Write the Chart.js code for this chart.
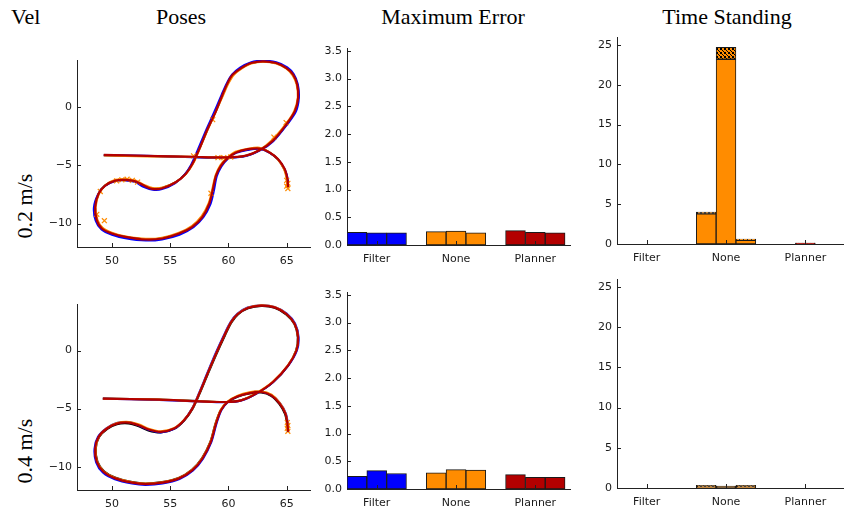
<!DOCTYPE html>
<html lang="en">
<head>
<meta charset="UTF-8"/>
<title>Vel - Poses / Maximum Error / Time Standing</title>
<script src="https://cdn.jsdelivr.net/npm/chart.js"></script>
<style>
  html, body { margin: 0; padding: 0; background: #fff; overflow: hidden; }
  body { position: relative; width: 845px; height: 508px; }
  .t { position: absolute; font-family: 'Liberation Serif', 'Times New Roman', serif; font-size: 22px;
    line-height: 22px; color: #000; white-space: nowrap; }
  .c { transform: translateX(-50%); }
  .rot { transform: translate(-50%, -50%) rotate(-90deg); }
  canvas { position: absolute; }
</style>
</head>
<body>

<div class="t" style="left:11px; top:6px">Vel</div>
<div class="t c" style="left:181px; top:6px">Poses</div>
<div class="t c" style="left:453px; top:6px">Maximum Error</div>
<div class="t c" style="left:727px; top:6px">Time Standing</div>
<div class="t rot" style="left:25px; top:206px">0.2 m/s</div>
<div class="t rot" style="left:25px; top:451px">0.4 m/s</div>

<script>
// ---- data ----
const methods = ['Filter', 'None', 'Planner'];
const methodColors = ['#0000ff', '#ff8c00', '#b30000'];

const poseTicksX = [50, 55, 60, 65];
const poseTicksY = [0, -5, -10];
const errTicks = [0, 0.5, 1, 1.5, 2, 2.5, 3, 3.5];
const timeTicks = [0, 5, 10, 15, 20, 25];

// row 1 (0.2 m/s) trajectories, [x, y]
const black1 = [[49.3,-4.15],[53,-4.22],[56.9,-4.3],[59.8,-4.35],[61.5,-4.2],[62.7,-3.7],[63.8,-2.9],[65.0,-1.5],[65.7,-0.4],[66.0,0.8],[65.9,1.9],[65.55,2.75],[65.0,3.3],[64.1,3.74],[63.0,3.88],[61.95,3.74],[61.1,3.3],[60.4,2.75],[59.95,2.0],[59.5,1.0],[58.9,-0.4],[58.2,-1.95],[57.5,-3.6],[56.9,-4.9],[56.3,-5.75],[55.5,-6.45],[54.3,-6.95],[53.5,-7.0],[52.75,-6.75],[52.0,-6.4],[51.15,-6.25],[50.3,-6.3],[49.4,-6.75],[48.85,-7.45],[48.55,-8.6],[48.7,-9.7],[49.15,-10.4],[50.0,-10.85],[51.15,-11.15],[52.9,-11.35],[54.3,-11.25],[55.75,-10.85],[56.9,-10.25],[57.75,-9.4],[58.35,-8.3],[58.65,-7.15],[58.95,-5.9],[59.35,-5.05],[59.95,-4.4],[60.65,-3.9],[61.65,-3.65],[62.65,-3.55],[63.5,-3.9],[64.25,-4.5],[64.8,-5.35],[65.05,-6.2],[65.1,-6.9]];
const blue1 = [[49.3,-4.15],[53,-4.2],[56.9,-4.32],[59.8,-4.38],[61.5,-4.22],[62.75,-3.72],[63.85,-2.95],[65.05,-1.5],[65.8,-0.4],[66.05,0.8],[65.95,1.95],[65.6,2.8],[65.05,3.38],[64.1,3.8],[63.0,3.95],[61.9,3.8],[61.0,3.35],[60.3,2.75],[59.85,2.0],[59.4,1.0],[58.8,-0.4],[58.1,-1.95],[57.4,-3.6],[56.8,-4.95],[56.2,-5.85],[55.4,-6.55],[54.3,-7.05],[53.5,-7.1],[52.7,-6.85],[52.0,-6.45],[51.15,-6.3],[50.3,-6.35],[49.35,-6.8],[48.8,-7.5],[48.45,-8.6],[48.6,-9.75],[49.1,-10.5],[50.0,-10.95],[51.15,-11.25],[52.9,-11.45],[54.3,-11.35],[55.8,-10.95],[57.0,-10.3],[57.85,-9.45],[58.45,-8.35],[58.75,-7.2],[59.0,-5.95],[59.4,-5.1],[59.95,-4.45],[60.65,-3.95],[61.65,-3.7],[62.65,-3.6],[63.55,-3.95],[64.3,-4.55],[64.85,-5.4],[65.1,-6.2],[65.1,-6.9]];
const orange1 = [[49.3,-4.18],[53,-4.25],[57.0,-4.28],[59.8,-4.35],[61.5,-4.18],[62.7,-3.68],[63.75,-2.85],[64.95,-1.45],[65.65,-0.35],[65.95,0.8],[65.85,1.9],[65.5,2.7],[64.95,3.28],[64.1,3.7],[63.0,3.85],[61.95,3.7],[61.15,3.28],[60.45,2.72],[60.0,2.0],[59.55,1.0],[58.95,-0.35],[58.25,-1.9],[57.55,-3.55],[57.0,-4.8],[56.4,-5.7],[55.55,-6.4],[54.35,-6.9],[53.5,-6.95],[52.8,-6.7],[52.0,-6.3],[51.15,-6.2],[50.3,-6.25],[49.45,-6.7],[48.9,-7.4],[48.6,-8.6],[48.75,-9.65],[49.2,-10.35],[50.05,-10.8],[51.2,-11.1],[52.9,-11.3],[54.3,-11.2],[55.7,-10.8],[56.85,-10.2],[57.7,-9.35],[58.3,-8.25],[58.6,-7.1],[58.9,-5.85],[59.3,-5.0],[59.9,-4.35],[60.6,-3.85],[61.65,-3.6],[62.65,-3.5],[63.45,-3.85],[64.2,-4.45],[64.75,-5.3],[65.0,-6.2],[65.05,-6.8]];
const red1 = [[49.3,-4.12],[53,-4.2],[56.9,-4.28],[59.8,-4.33],[61.5,-4.18],[62.7,-3.7],[63.8,-2.92],[64.97,-1.5],[65.7,-0.37],[65.98,0.76],[65.9,1.9],[65.55,2.75],[64.97,3.31],[64.1,3.74],[62.96,3.88],[61.95,3.74],[61.1,3.31],[60.37,2.75],[59.93,2.04],[59.5,1.05],[58.93,-0.37],[58.2,-1.93],[57.49,-3.63],[56.9,-4.9],[56.33,-5.75],[55.47,-6.46],[54.32,-6.97],[53.46,-7.03],[52.74,-6.74],[52.0,-6.37],[51.15,-6.26],[50.29,-6.32],[49.42,-6.74],[48.85,-7.45],[48.56,-8.58],[48.7,-9.72],[49.14,-10.42],[50.0,-10.85],[51.15,-11.13],[52.88,-11.36],[54.32,-11.27],[55.76,-10.85],[56.9,-10.28],[57.77,-9.43],[58.35,-8.3],[58.64,-7.17],[58.93,-5.89],[59.36,-5.04],[59.93,-4.39],[60.65,-3.91],[61.66,-3.63],[62.67,-3.57],[63.53,-3.91],[64.25,-4.48],[64.83,-5.33],[65.06,-6.18],[65.12,-6.88]];
const stand1 = [[57.0,-4.2],[58.65,-1.1],[59.1,-4.35],[59.6,-4.35],[60.2,-4.3],[63.9,-2.6],[64.95,-1.35],[50.4,-6.35],[50.85,-6.25],[51.3,-6.2],[51.75,-6.3],[52.2,-6.45],[49.0,-7.25],[48.7,-9.2],[49.35,-9.75],[58.5,-7.4],[65.0,-6.3],[65.1,-6.55],[65.0,-6.8],[65.1,-7.0]];

// row 2 (0.4 m/s) trajectories, [x, y]
const black2 = [[49.22,-4.12],[54.03,-4.22],[57.49,-4.35],[59.79,-4.42],[61.09,-4.28],[62.38,-3.72],[63.82,-2.74],[65.1,-1.32],[65.8,0],[65.95,1.14],[65.66,2.27],[64.95,3.1],[63.96,3.67],[62.81,3.82],[61.68,3.62],[60.84,3.12],[60.26,2.41],[59.69,1.27],[58.97,-0.3],[58.24,-2.0],[57.53,-3.7],[56.94,-4.98],[56.24,-5.98],[55.38,-6.72],[54.18,-7.05],[53.12,-6.88],[52.25,-6.5],[51.4,-6.28],[50.43,-6.35],[49.6,-6.75],[48.9,-7.45],[48.62,-8.43],[48.76,-9.55],[49.32,-10.38],[50.32,-10.95],[51.75,-11.32],[52.88,-11.44],[54.3,-11.32],[55.72,-10.96],[56.86,-10.26],[57.72,-9.27],[58.44,-7.86],[58.88,-6.3],[59.32,-5.16],[59.9,-4.45],[60.78,-3.98],[61.8,-3.7],[62.81,-3.62],[63.66,-3.9],[64.36,-4.6],[64.85,-5.45],[65.03,-6.3],[65.1,-7.0]];
const blue2 = [[49.22,-4.15],[54.03,-4.25],[57.49,-4.38],[59.79,-4.45],[61.09,-4.3],[62.4,-3.7],[63.85,-2.7],[65.15,-1.28],[65.88,0],[66.02,1.15],[65.72,2.32],[65.0,3.18],[63.96,3.75],[62.81,3.9],[61.64,3.7],[60.76,3.16],[60.18,2.44],[59.6,1.3],[58.88,-0.28],[58.16,-2.0],[57.45,-3.72],[56.86,-5.02],[56.14,-6.04],[55.28,-6.76],[54.18,-7.05],[53.2,-6.84],[52.32,-6.46],[51.44,-6.16],[50.4,-6.24],[49.52,-6.7],[48.8,-7.43],[48.5,-8.45],[48.64,-9.62],[49.22,-10.5],[50.25,-11.08],[51.73,-11.45],[52.88,-11.57],[54.34,-11.45],[55.8,-11.06],[56.96,-10.32],[57.82,-9.3],[58.54,-7.86],[58.98,-6.28],[59.4,-5.12],[59.96,-4.42],[60.82,-3.92],[61.8,-3.63],[62.81,-3.54],[63.7,-3.84],[64.44,-4.55],[64.93,-5.42],[65.1,-6.28],[65.14,-7.0]];
const orange2 = [[49.22,-4.14],[54.03,-4.22],[57.49,-4.36],[59.79,-4.42],[61.09,-4.27],[62.38,-3.66],[63.8,-2.68],[65.1,-1.27],[65.82,0.02],[65.97,1.15],[65.68,2.3],[64.96,3.16],[63.96,3.74],[62.81,3.89],[61.66,3.69],[60.8,3.16],[60.22,2.44],[59.65,1.3],[58.93,-0.28],[58.2,-1.99],[57.49,-3.7],[56.9,-4.98],[56.2,-5.96],[55.36,-6.66],[54.2,-6.95],[53.2,-6.74],[52.34,-6.37],[51.46,-6.14],[50.43,-6.24],[49.58,-6.68],[48.88,-7.41],[48.6,-8.43],[48.73,-9.56],[49.3,-10.4],[50.3,-10.97],[51.73,-11.33],[52.88,-11.45],[54.3,-11.33],[55.74,-10.96],[56.88,-10.26],[57.74,-9.27],[58.46,-7.84],[58.9,-6.27],[59.34,-5.1],[59.93,-4.38],[60.8,-3.88],[61.8,-3.6],[62.81,-3.5],[63.7,-3.8],[64.42,-4.52],[64.9,-5.4],[65.06,-6.25],[65.1,-6.95]];
const red2 = [[49.22,-4.14],[54.03,-4.23],[57.49,-4.37],[59.79,-4.43],[61.09,-4.29],[62.38,-3.71],[63.82,-2.71],[65.12,-1.29],[65.84,0],[65.98,1.14],[65.69,2.29],[64.97,3.14],[63.96,3.71],[62.81,3.86],[61.66,3.66],[60.8,3.14],[60.22,2.43],[59.65,1.29],[58.93,-0.29],[58.2,-2.0],[57.49,-3.71],[56.9,-5.0],[56.19,-6.0],[55.33,-6.71],[54.18,-7.0],[53.17,-6.8],[52.3,-6.43],[51.44,-6.2],[50.43,-6.29],[49.57,-6.71],[48.85,-7.43],[48.56,-8.43],[48.7,-9.57],[49.28,-10.43],[50.29,-11.0],[51.73,-11.37],[52.88,-11.49],[54.32,-11.37],[55.76,-11.0],[56.91,-10.29],[57.77,-9.29],[58.49,-7.86],[58.93,-6.29],[59.36,-5.14],[59.93,-4.43],[60.8,-3.94],[61.8,-3.66],[62.81,-3.57],[63.68,-3.86],[64.4,-4.57],[64.89,-5.43],[65.06,-6.29],[65.12,-7.0]];
const stand2 = [[65.05,-6.2],[65.1,-6.45],[65.05,-6.7],[65.1,-6.95]];

// Maximum Error, three runs per method
const errRow1 = [[0.23, 0.22, 0.22], [0.24, 0.25, 0.22], [0.26, 0.23, 0.22]];
const errRow2 = [[0.23, 0.33, 0.28], [0.29, 0.35, 0.34], [0.26, 0.21, 0.21]];

// Time Standing, three runs per method: plain part and hatched part
const standRow1 = [[0, 0, 0], [3.8, 23.2, 0.46], [0, 0.1, 0]];
const hatchRow1 = [[0, 0, 0], [0.2, 1.5, 0.17], [0, 0.03, 0]];
const standRow2 = [[0, 0, 0], [0.13, 0.25, 0.13], [0, 0, 0]];
const hatchRow2 = [[0, 0, 0], [0.2, 0, 0.2], [0, 0, 0]];

// ---- layout ----
const YW = 44, XH = 20, PT = 12, PR = 10, PB = 2;
const tickFont = { family: "'DejaVu Sans', sans-serif", size: 11 };

function makeCanvas(area) {
  const c = document.createElement('canvas');
  c.width = (area.r - area.l) + YW + PR;
  c.height = (area.b - area.t) + PT + XH + PB;
  c.style.left = (area.l - YW) + 'px';
  c.style.top = (area.t - PT) + 'px';
  document.body.appendChild(c);
  return c;
}

// matplotlib style ticks pointing into the plot
const innerTicks = {
  id: 'innerTicks',
  afterDraw(chart) {
    const { ctx, chartArea: a, scales } = chart;
    ctx.save();
    ctx.strokeStyle = '#222';
    ctx.lineWidth = 1;
    ctx.beginPath();
    scales.x.ticks.forEach(t => {
      const p = Math.round(scales.x.getPixelForValue(t.value)) + 0.5;
      ctx.moveTo(p, a.bottom); ctx.lineTo(p, a.bottom - 4);
    });
    scales.y.ticks.forEach(t => {
      const p = Math.round(scales.y.getPixelForValue(t.value)) + 0.5;
      ctx.moveTo(a.left, p); ctx.lineTo(a.left + 4, p);
    });
    ctx.stroke();
    ctx.restore();
  }
};

function axis(min, max, ticks, fmt, isX) {
  return {
    type: 'linear', min, max, offset: false,
    grid: { display: false, drawTicks: false, offset: false },
    border: { display: true, color: '#222', width: 1 },
    ticks: { font: tickFont, color: '#1a1a1a', padding: isX ? 8 : 5, autoSkip: false, maxRotation: 0,
      callback: fmt },
    afterBuildTicks: s => { s.ticks = ticks.map(v => ({ value: v })); },
    afterFit: s => { if (isX) s.height = XH; else s.width = YW; }
  };
}

const baseOpts = {
  responsive: false, animation: false, devicePixelRatio: 1,
  layout: { padding: { left: 0, top: PT, right: PR, bottom: PB } },
  plugins: { legend: { display: false }, tooltip: { enabled: false } }
};

const minus = v => String(v).replace('-', '\u2212');
const toXY = arr => arr.map(([x, y]) => ({ x, y }));

function poseChart(area, black, blue, orange, red, stand) {
  const line = (data, color, w, order) => ({
    data: toXY(data), borderColor: color, borderWidth: w, showLine: true,
    pointRadius: 0, tension: 0.3, fill: false, order
  });
  new Chart(makeCanvas(area), {
    type: 'scatter',
    data: {
      datasets: [
        line(red, methodColors[2], 2.2, 0),
        { data: toXY(stand), showLine: false, pointStyle: 'crossRot', pointRadius: 3.5,
          borderColor: methodColors[1], borderWidth: 1.2, backgroundColor: methodColors[1], order: 1 },
        line(orange, methodColors[1], 2, 2),
        line(blue, methodColors[0], 2, 3),
        line(black, '#000000', 2, 4)
      ]
    },
    options: Object.assign({}, baseOpts, {
      scales: {
        x: axis(47, 67, poseTicksX, minus, true),
        y: axis(-12, 4, poseTicksY, minus, false)
      }
    }),
    plugins: [innerTicks]
  });
}

// bar positions: 3 runs side by side per method, 4 bar widths per method slot
const barX = (g, k) => g * 4 + k + 0.5;
const groupTicks = methods.map((m, g) => g * 4 + 1.5);
const groupLabel = v => methods[Math.round((v - 1.5) / 4)];

function barData(rows) {
  const pts = [];
  rows.forEach((runs, g) => runs.forEach((v, k) => pts.push({ x: barX(g, k), y: v })));
  return pts;
}
function barColors(rows, fill) {
  const cols = [];
  rows.forEach((runs, g) => runs.forEach(() => cols.push(fill || methodColors[g])));
  return cols;
}

function errorChart(area, rows) {
  new Chart(makeCanvas(area), {
    type: 'bar',
    data: {
      datasets: [{
        data: barData(rows), backgroundColor: barColors(rows),
        borderColor: '#1a1a1a', borderWidth: 1, borderSkipped: false,
        categoryPercentage: 1, barPercentage: 1
      }]
    },
    options: Object.assign({}, baseOpts, {
      scales: {
        x: axis(0, 11.25, groupTicks, groupLabel, true),
        y: axis(0, 3.55, errTicks, v => v.toFixed(1), false)
      }
    }),
    plugins: [innerTicks]
  });
}

function hatchPattern() {
  const c = document.createElement('canvas');
  c.width = 4; c.height = 4;
  const g = c.getContext('2d');
  g.fillStyle = methodColors[1];
  g.fillRect(0, 0, 4, 4);
  g.fillStyle = '#000';
  [[0,0],[1,1],[2,2],[3,3],[3,0],[0,3]].forEach(([x, y]) => g.fillRect(x, y, 1, 1));
  return g.createPattern(c, 'repeat');
}

function timeChart(area, plain, hatched) {
  const x = axis(0, 11.4, groupTicks, groupLabel, true);
  const y = axis(0, 26, timeTicks, v => String(v), false);
  x.stacked = true; y.stacked = true;
  new Chart(makeCanvas(area), {
    type: 'bar',
    data: {
      datasets: [
        { data: barData(plain), backgroundColor: barColors(plain),
          borderColor: '#1a1a1a', borderWidth: 1, borderSkipped: false,
          categoryPercentage: 1, barPercentage: 1 },
        { data: barData(hatched), backgroundColor: barColors(hatched, hatchPattern()),
          borderColor: '#1a1a1a', borderWidth: 1, borderSkipped: false,
          categoryPercentage: 1, barPercentage: 1 }
      ]
    },
    options: Object.assign({}, baseOpts, { scales: { x, y } }),
    plugins: [innerTicks]
  });
}

poseChart({ l: 77, t: 60, r: 310, b: 247 }, black1, blue1, orange1, red1, stand1);
errorChart({ l: 347, t: 48, r: 570, b: 245 }, errRow1);
timeChart({ l: 617, t: 37, r: 843, b: 244 }, standRow1, hatchRow1);

poseChart({ l: 77, t: 304, r: 310, b: 490 }, black2, blue2, orange2, red2, stand2);
errorChart({ l: 347, t: 292, r: 570, b: 489 }, errRow2);
timeChart({ l: 617, t: 279, r: 843, b: 488 }, standRow2, hatchRow2);
</script>
</body>
</html>
